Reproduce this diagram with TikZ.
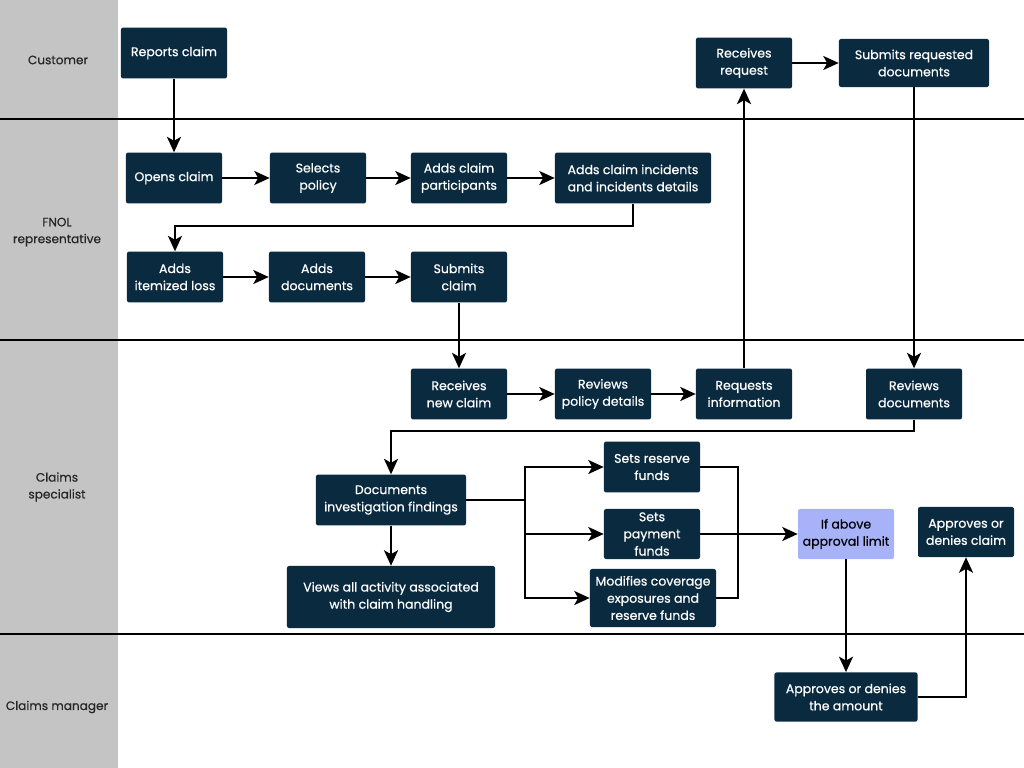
\documentclass[tikz,border=0pt]{standalone}
\usepackage{fontspec}
\setmainfont{Poppins}
\newfontfamily\taskfont{Poppins}[FakeBold=0.6]
\definecolor{claimnavy}{RGB}{10,42,64}
\definecolor{limitblue}{RGB}{168,178,248}
\definecolor{lanegray}{RGB}{196,196,196}
\usetikzlibrary{
  arrows.meta,
  positioning,
  calc
}

\begin{document}
\begin{tikzpicture}[
  x=0.025cm, y=-0.025cm,
  task/.style={fill=claimnavy, text=white, rounded corners=1.5pt,
    font=\taskfont\fontsize{8.9}{12.2}\selectfont, align=center, inner sep=0pt,
    minimum width=2.4cm, minimum height=1.27cm},
  lane label/.style={font=\taskfont\fontsize{8.6}{12}\selectfont, align=center, text=black!85},
  lane line/.style={line width=1.4pt, black},
  link/.style={line width=1.3pt, black},
  flow/.style={link, -{Stealth[length=11pt, width=10pt, inset=2.8pt]}},
]

% Canvas and lanes
\useasboundingbox (0,0) rectangle (1024,768);
\fill[white] (0,0) rectangle (1024,768);
\fill[lanegray] (0,0) rectangle (118,768);
\foreach \y in {119, 340, 634}
  \draw[lane line] (0,\y) -- (1024,\y);

\node[lane label] (customer) at (58, 60) {Customer};
\node[lane label] (fnol)     at (57,232) {FNOL\\representative};
\node[lane label] (spec)     at (57,487) {Claims\\specialist};
\node[lane label] (manager)  at (57,707) {Claims manager};

% Customer
\node[task, minimum width=2.65cm] (report)  at (174, 53) {Reports claim};
\node[task]                       (request) at (744, 63) {Receives\\request};
\node[task, minimum width=3.75cm, minimum height=1.2cm] (submitdocs) at (914, 63) {Submits requested\\documents};

% FNOL representative
\node[task] (open)   at (174,178) {Opens claim};
\node[task] (policy) at (318,178) {Selects\\policy};
\node[task] (partic) at (459,178) {Adds claim\\participants};
\node[task, minimum width=3.9cm] (incid) at (633,178) {Adds claim incidents\\and incidents details};
\node[task] (itemized) at (175,277) {Adds\\itemized loss};
\node[task] (adddocs)  at (317,277) {Adds\\documents};
\node[task] (submit)   at (459,277) {Submits\\claim};

% Claims specialist
\node[task] (newclaim)  at (459,394) {Receives\\new claim};
\node[task] (revpolicy) at (603,394) {Reviews\\policy details};
\node[task] (reqinfo)   at (744,394) {Requests\\information};
\node[task] (revdocs)   at (914,394) {Reviews\\documents};
\node[task, minimum width=3.75cm] (findings) at (391,500) {Documents\\investigation findings};
\node[task, minimum width=5.2cm, minimum height=1.55cm] (activity) at (391,597) {Views all activity associated\\with claim handling};
\node[task] (reserve) at (652,467) {Sets reserve\\funds};
\node[task, minimum height=1.25cm] (payment) at (652,534) {Sets\\payment\\funds};
\node[task, minimum width=3.15cm, minimum height=1.45cm] (modify) at (653,598) {Modifies coverage\\exposures and\\reserve funds};
\node[task, fill=limitblue, text=black, minimum height=1.25cm] (limit) at (846,534) {If above\\approval limit};
\node[task, minimum height=1.25cm] (decide) at (966,532) {Approves or\\denies claim};

% Claims manager
\node[task, minimum width=3.575cm, minimum height=1.23cm] (amount) at (846,697) {Approves or denies\\the amount};

% Connectors
\draw[flow] (report) -- (open);
\draw[flow] (open) -- (policy);
\draw[flow] (policy) -- (partic);
\draw[flow] (partic) -- (incid);
\draw[flow] (incid.south) -- ++(0,22) -| (itemized.north);
\draw[flow] (itemized) -- (adddocs);
\draw[flow] (adddocs) -- (submit);
\draw[flow] (submit) -- (newclaim);
\draw[flow] (newclaim) -- (revpolicy);
\draw[flow] (revpolicy) -- (reqinfo);
\draw[flow] (reqinfo) -- (request);
\draw[flow] (request) -- (submitdocs);
\draw[flow] (submitdocs) -- (revdocs);
\draw[flow] (revdocs.south) -- ++(0,11) -| (findings.north);
\draw[flow] (findings) -- (activity);

% Branch and merge
\draw[link] (findings.east) -- ++(59,0) coordinate (split);
\draw[flow] (split) |- (reserve.west);
\draw[flow] (split) |- (payment.west);
\draw[flow] (split) |- (modify.west);
\coordinate (merge) at (738,534);
\draw[link] (reserve.east) -| (merge) |- (modify.east);
\draw[link] (payment.east) -- (merge);
\draw[flow] (merge) -- (limit.west);
\draw[flow] (limit) -- (amount);
\draw[flow] (amount.east) -| (decide.south);

\end{tikzpicture}
\end{document}
